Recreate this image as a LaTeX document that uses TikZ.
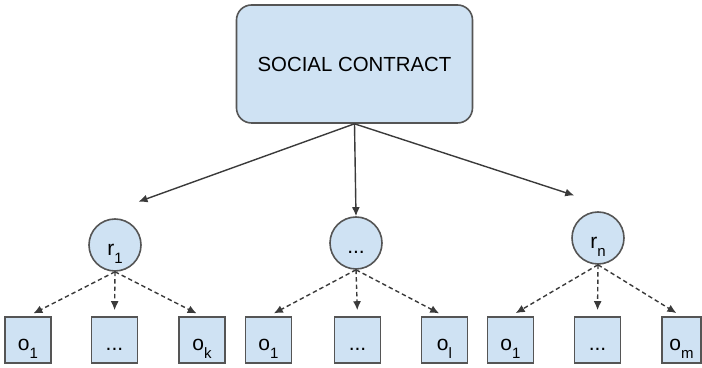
\documentclass[tikz,border=0pt]{standalone}
\usepackage{fontspec}
\setmainfont{Liberation Sans}
\usetikzlibrary{arrows.meta,positioning}

\definecolor{cellfill}{HTML}{CFE2F3}
\definecolor{cellline}{HTML}{555555}
\definecolor{linkline}{HTML}{3A3A3A}
\newcommand{\lowidx}[1]{\raisebox{-4pt}{\fontsize{7.5}{7.5}\selectfont #1}}

\begin{document}
\begin{tikzpicture}[x=0.5pt,y=-0.5pt,
    role/.style={circle,draw=cellline,fill=cellfill,line width=0.8pt,minimum size=26pt,inner sep=0pt,
        font=\fontsize{10.5}{11}\selectfont,text height=11pt,text depth=0pt},
    item/.style={rectangle,draw=cellline,fill=cellfill,line width=0.8pt,minimum size=23pt,inner sep=0pt,
        font=\fontsize{10.5}{11}\selectfont,text height=11pt,text depth=0pt},
    link/.style={->,draw=linkline,line width=0.7pt},
    sublink/.style={->,draw=linkline,line width=0.7pt,dash pattern=on 2.2pt off 1.5pt,shorten >=3pt},
    >={Latex[length=4.5pt,width=4pt]}]
                \useasboundingbox (0,0) rectangle (702,368);
                \node[draw=cellline,fill=cellfill,line width=0.8pt,rounded corners=7.5pt,
                    minimum width=118pt,minimum height=59pt,font=\fontsize{10.2}{12}\selectfont] (sc) at (354.5,64) {SOCIAL CONTRACT};
                \node[role] (r1) at (115,245) {r\lowidx{1}};
                \node[role] (rm) at (356,243) {...};
                \node[role] (rn) at (598,238) {r\lowidx{n}};
                \node[item] (a1) at (28,340) {o\lowidx{1}};
                \node[item] (a2) at (114.5,340) {...};
                \node[item] (a3) at (202,340) {o\lowidx{k}};
                \node[item] (b1) at (268.5,340) {o\lowidx{1}};
                \node[item] (b2) at (357.5,340) {...};
                \node[item] (b3) at (444.5,340) {o\lowidx{l}};
                \node[item] (c1) at (510.5,340) {o\lowidx{1}};
                \node[item] (c2) at (597.5,340) {...};
                \node[item,minimum width=19.5pt] (c3) at (681.5,340) {o\lowidx{m}};
                \draw[link,shorten >=12.5pt] (sc.south) -- ([yshift=4pt]r1.north);
                \draw[link] (sc.south) -- (rm.north);
                \draw[link,shorten >=12.5pt] (sc.south) -- ([yshift=4pt]rn.north);
                \draw[sublink] (r1.south) -- (a1.north);
                \draw[sublink] (r1.south) -- (a2.north);
                \draw[sublink] (r1.south) -- (a3.north);
                \draw[sublink] (rm.south) -- (b1.north);
                \draw[sublink] (rm.south) -- (b2.north);
                \draw[sublink] (rm.south) -- (b3.north);
                \draw[sublink] (rn.south) -- (c1.north);
                \draw[sublink] (rn.south) -- (c2.north);
                \draw[sublink] (rn.south) -- (c3.north);
            \end{tikzpicture}
\end{document}
